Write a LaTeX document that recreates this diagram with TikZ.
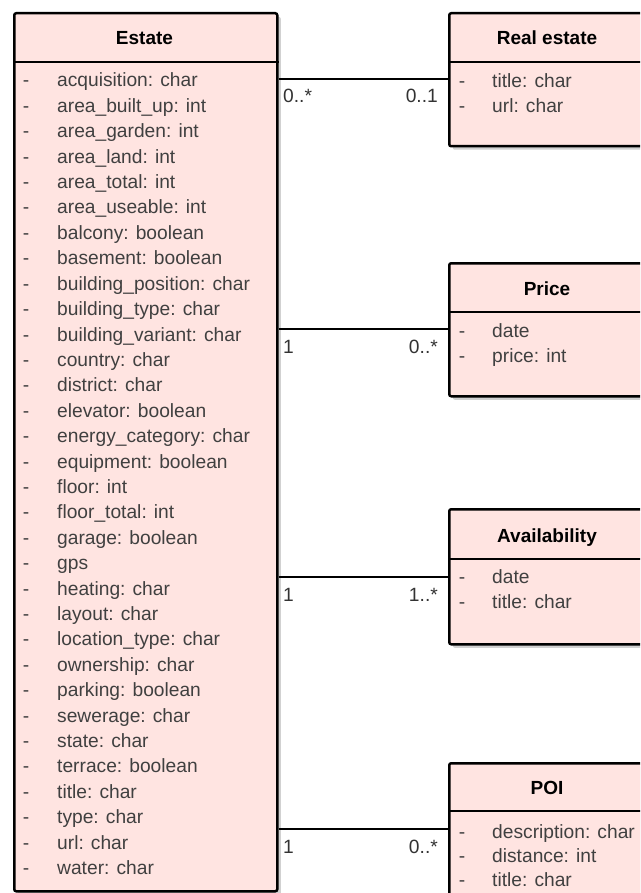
\documentclass[tikz,border=0pt]{standalone}
\usepackage{fontspec}
\setmainfont{Liberation Sans}
\usetikzlibrary{shadows}
\definecolor{boxfill}{RGB}{255,228,225}
\definecolor{txtgray}{RGB}{64,64,64}
\begin{document}
\begin{tikzpicture}[x=1pt,y=-1pt,
  classbox/.style={draw=black, line width=2.5pt, fill=boxfill, rounded corners=2pt, anchor=north west, inner sep=0pt,
    drop shadow={shadow xshift=3.5pt, shadow yshift=-3.5pt, fill=black!18, opacity=1}},
  sepline/.style={draw=black, line width=2pt},
  assoc/.style={draw=black, line width=2pt},
  basetext/.style={font=\fontsize{19.2}{23}\selectfont, inner sep=0pt, text height=14pt, text depth=4pt},
  title/.style={basetext, font=\fontsize{19}{23}\selectfont\bfseries, text=black, anchor=center},
  attr/.style={basetext, text=txtgray, anchor=west},
  dashmark/.style={basetext, text=txtgray, anchor=center},
  multl/.style={basetext, text=txtgray!80!black, anchor=west},
  multr/.style={basetext, text=txtgray!80!black, anchor=east},
]
\useasboundingbox (0,0) rectangle (640,893);
\fill[white] (0,0) rectangle (640,893);
\clip (0,0) rectangle (640,893);

% ---------- Estate ----------
\node[classbox, minimum width=263pt, minimum height=878pt] (estate) at (13,12) {};
\draw[sepline] ([yshift=-50pt]estate.north west) -- ([yshift=-50pt]estate.north east);
\node[title] (estatetitle) at (144.5,40) {Estate};
\foreach \t [count=\i from 0] in {
  acquisition: char, area\_built\_up: int, area\_garden: int, area\_land: int,
  area\_total: int, area\_useable: int, balcony: boolean, basement: boolean,
  building\_position: char, building\_type: char, building\_variant: char,
  country: char, district: char, elevator: boolean, energy\_category: char,
  equipment: boolean, floor: int, floor\_total: int, garage: boolean, gps,
  heating: char, layout: char, location\_type: char, ownership: char,
  parking: boolean, sewerage: char, state: char, terrace: boolean,
  title: char, type: char, url: char, water: char} {
  \node[dashmark] (ed\i) at (26, 82+25.4*\i) {-};
  \node[attr] (ea\i) at (57, 82+25.4*\i) {\t};
}

% ---------- Real estate ----------
\node[classbox, minimum width=198pt, minimum height=133pt] (re) at (448,12) {};
\draw[sepline] ([yshift=-50pt]re.north west) -- ([yshift=-50pt]re.north east);
\node[title] (retitle) at (547,40) {Real estate};
\node[dashmark] (red1) at (462,83) {-};
\node[attr] (rea1) at (492,83) {title: char};
\node[dashmark] (red2) at (462,108) {-};
\node[attr] (rea2) at (492,108) {url: char};

% ---------- Price ----------
\node[classbox, minimum width=198pt, minimum height=133pt] (price) at (448,262) {};
\draw[sepline] ([yshift=-50pt]price.north west) -- ([yshift=-50pt]price.north east);
\node[title] (pricetitle) at (547,290) {Price};
\node[dashmark] (pd1) at (462,332) {-};
\node[attr] (pa1) at (492,332) {date};
\node[dashmark] (pd2) at (462,357) {-};
\node[attr] (pa2) at (492,357) {price: int};

% ---------- Availability ----------
\node[classbox, minimum width=198pt, minimum height=135pt] (avail) at (448,508) {};
\draw[sepline] ([yshift=-51pt]avail.north west) -- ([yshift=-51pt]avail.north east);
\node[title] (availtitle) at (547,537) {Availability};
\node[dashmark] (ad1) at (462,578) {-};
\node[attr] (aa1) at (492,578) {date};
\node[dashmark] (ad2) at (462,603) {-};
\node[attr] (aa2) at (492,603) {title: char};

% ---------- POI ----------
\node[classbox, minimum width=198pt, minimum height=150pt] (poi) at (448,762) {};
\draw[sepline] ([yshift=-49pt]poi.north west) -- ([yshift=-49pt]poi.north east);
\node[title] (poititle) at (547,789) {POI};
\node[dashmark] (od1) at (462,833) {-};
\node[attr] (oa1) at (492,833) {description: char};
\node[dashmark] (od2) at (462,857) {-};
\node[attr] (oa2) at (492,857) {distance: int};
\node[dashmark] (od3) at (462,881) {-};
\node[attr] (oa3) at (492,881) {title: char};

% ---------- Associations ----------
\coordinate (y1) at (0,79);
\coordinate (y2) at (0,329);
\coordinate (y3) at (0,577);
\coordinate (y4) at (0,829);
\draw[assoc] (estate.east |- y1) -- (re.west |- y1);
\draw[assoc] (estate.east |- y2) -- (price.west |- y2);
\draw[assoc] (estate.east |- y3) -- (avail.west |- y3);
\draw[assoc] (estate.east |- y4) -- (poi.west |- y4);

\node[multl] (m1l) at (283,98) {0..*};
\node[multr] (m1r) at (438,98) {0..1};
\node[multl] (m2l) at (283,348) {1};
\node[multr] (m2r) at (438,348) {0..*};
\node[multl] (m3l) at (283,596) {1};
\node[multr] (m3r) at (438,596) {1..*};
\node[multl] (m4l) at (283,848) {1};
\node[multr] (m4r) at (438,848) {0..*};
\end{tikzpicture}
\end{document}
